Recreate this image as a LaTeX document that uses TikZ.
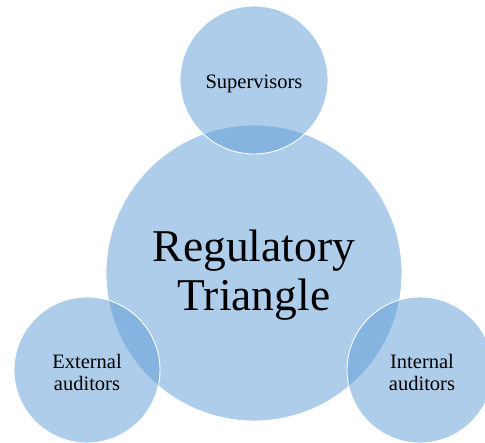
\documentclass[tikz,border=0pt]{standalone}
\usepackage{fontspec}
\setmainfont{Liberation Serif}
\definecolor{officeblue}{RGB}{91,155,213}
\begin{document}
\begin{tikzpicture}[x=1pt,y=-1pt,
  bubble/.style={circle,fill=officeblue,fill opacity=0.5,draw=white,line width=0.9pt,inner sep=0pt},
  lbl/.style={align=center,text=black,font=\fontsize{20.5}{22}\selectfont}]
\useasboundingbox (0,0) rectangle (485,443);
\node[bubble,minimum size=296pt] (main) at (254,273) {};
\node[bubble,minimum size=148pt] (sup) at (254,80) {};
\node[bubble,minimum size=146pt] (ext) at (87,370) {};
\node[bubble,minimum size=146pt] (int) at (420,370) {};
\node[align=center,font=\fontsize{45.5}{49}\selectfont] (mainlbl) at (254,275) {Regulatory\\Triangle};
\node[lbl] (suplbl) at (254,84) {Supervisors};
\node[lbl] (extlbl) at (87,372) {External\\auditors};
\node[lbl] (intlbl) at (422,372) {Internal\\auditors};
\end{tikzpicture}
\end{document}
